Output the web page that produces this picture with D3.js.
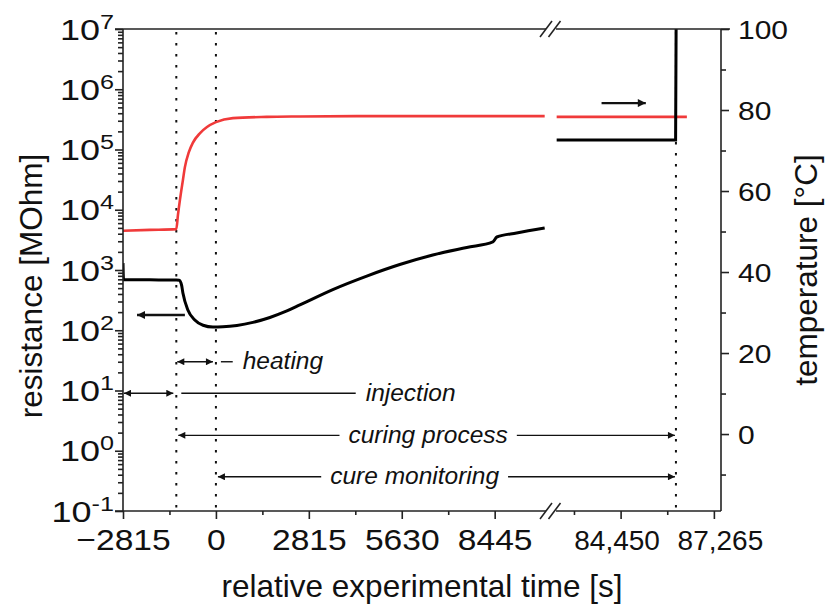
<!DOCTYPE html>
<html>
<head>
<meta charset="utf-8">
<script src="https://cdn.jsdelivr.net/npm/d3@7"></script>
<style>
  html, body { margin: 0; padding: 0; background: #fff; }
  svg { display: block; font-family: "Liberation Sans", Arial, sans-serif; }
</style>
</head>
<body>
<svg id="chart" width="826" height="606"></svg>
<script>
// Resistance of the sensor (left, log axis) and mould temperature (right axis)
// against relative experimental time; the time axis is broken between the two parts.

// --- resistance [MOhm], first part of the run
const resTimeA  = [-2815, -2800, -2000, -1200, -1110, -1040, -1000, -850, -640, -390, -90, 210, 636, 1120, 1635, 2150, 2543, 3541, 4570, 5570, 6570, 7600, 8390, 8510, 9110, 9960];
const resValueA = [1300, 690, 686, 682, 678, 560, 415, 217, 148, 121, 113, 114, 120, 135, 163, 209, 263, 474, 794, 1233, 1774, 2362, 2917, 3530, 4110, 4980];
// --- resistance, end of the run
const resTimeB  = [82520, 86110, 86125];
const resValueB = [1.44e5, 1.44e5, 1e7];

// --- temperature [°C]
const tempTimeA  = [-2815, -2000, -1200, -1150, -1090, -1000, -940, -820, -700, -480, -270, 0, 515, 1540, 2540, 5000, 7500, 9960];
const tempValueA = [50.2, 50.4, 50.6, 54.1, 57.8, 62.7, 65.9, 69.6, 71.9, 74.3, 75.8, 77.0, 78.0, 78.3, 78.4, 78.5, 78.5, 78.5];
const tempTimeB  = [82520, 86450];
const tempValueB = [78.3, 78.3];

// --- ticks
const xTicksLeft = [-2815, 0, 2815, 5630, 8445];
const xTickLabelsLeft = ["\u22122815", "0", "2815", "5630", "8445"];
const xMinorLeft = [-1407.5, 1407.5, 4222.5, 7037.5];
const xTicksRight = [84450, 87265];
const xTickLabelsRight = ["84,450", "87,265"];
const xMinorRight = [83042.5, 85857.5];
const resExponents = [-1, 0, 1, 2, 3, 4, 5, 6, 7];
const tempTicks = [0, 20, 40, 60, 80, 100];
const tempMinor = [-10, 10, 30, 50, 70, 90];

// --- process phases (times in s, arrow level in MOhm)
const markerTimes = [-1200, 0, 86120];
const phaseNames = ["heating", "injection", "curing process", "cure monitoring"];
const phaseStart = [-1200, -2815, -1200, 0];
const phaseEnd   = [0, -1200, 86120, 86120];
const phaseLevel = [30, 9, 1.8, 0.37];
const phaseLabelAt = [2030, 5900, 6430, 6020];

// --- arrows telling which axis each curve belongs to
const resArrowTime = [-940, -2390];
const resArrowLevel = 179;
const tempArrowTime = [83875, 85210];
const tempArrowLevel = 81.7;

// ---------------------------------------------------------------
const W = 826, H = 606;
const M = { top: 29, right: 105, bottom: 95, left: 123 };
const plotL = M.left, plotR = W - M.right, plotT = M.top, plotB = H - M.bottom;
const breakL = 546, breakR = 556;

const svg = d3.select("#chart");

// broken time axis: two linear pieces sharing one scale
const x = d3.scaleLinear()
  .domain([-2815, 10000, 82500, 87480])
  .range([plotL, breakL, breakR, plotR]);
const yRes = d3.scaleLog().domain([0.1, 1e7]).range([plotB, plotT]);
const yTemp = d3.scaleLinear().domain([-19, 100]).range([plotB, plotT]);

const defs = svg.append("defs");
function marker(id, len, wid) {
  defs.append("marker")
    .attr("id", id)
    .attr("viewBox", "0 0 10 10")
    .attr("refX", 10).attr("refY", 5)
    .attr("markerUnits", "userSpaceOnUse")
    .attr("markerWidth", len).attr("markerHeight", wid)
    .attr("orient", "auto-start-reverse")
    .append("path").attr("d", "M0,0L10,5L0,10Z").attr("fill", "#111");
}
marker("headSmall", 8, 7);
marker("headBig", 10, 8);

svg.append("clipPath").attr("id", "plotClip")
  .append("rect").attr("x", plotL).attr("y", plotT)
  .attr("width", plotR - plotL).attr("height", plotB - plotT);

// dotted phase boundaries
svg.append("g").selectAll("line").data(markerTimes).join("line")
  .attr("x1", d => x(d)).attr("x2", d => x(d))
  .attr("y1", plotT + 3).attr("y2", plotB)
  .attr("stroke", "#111").attr("stroke-width", 2)
  .attr("stroke-dasharray", "2.5,8.5");

// curves
const curves = svg.append("g").attr("clip-path", "url(#plotClip)");
const resLine = d3.line().x(d => x(d[0])).y(d => yRes(d[1])).curve(d3.curveMonotoneX);
const tempLine = d3.line().x(d => x(d[0])).y(d => yTemp(d[1])).curve(d3.curveMonotoneX);
const zip = (a, b) => a.map((t, i) => [t, b[i]]);

curves.append("path").attr("d", tempLine(zip(tempTimeA, tempValueA)))
  .attr("fill", "none").attr("stroke", "#f03a3a").attr("stroke-width", 2.6);
curves.append("path").attr("d", tempLine(zip(tempTimeB, tempValueB)))
  .attr("fill", "none").attr("stroke", "#f03a3a").attr("stroke-width", 2.6);
curves.append("path").attr("d", resLine(zip(resTimeA, resValueA)))
  .attr("fill", "none").attr("stroke", "#000").attr("stroke-width", 3);
curves.append("path").attr("d", d3.line().x(d => x(d[0])).y(d => yRes(d[1]))(zip(resTimeB, resValueB)))
  .attr("fill", "none").attr("stroke", "#000").attr("stroke-width", 3);

// axis pointers
svg.append("line")
  .attr("x1", x(resArrowTime[0])).attr("x2", x(resArrowTime[1]))
  .attr("y1", yRes(resArrowLevel)).attr("y2", yRes(resArrowLevel))
  .attr("stroke", "#111").attr("stroke-width", 2.4).attr("marker-end", "url(#headBig)");
svg.append("line")
  .attr("x1", x(tempArrowTime[0])).attr("x2", x(tempArrowTime[1]))
  .attr("y1", yTemp(tempArrowLevel)).attr("y2", yTemp(tempArrowLevel))
  .attr("stroke", "#111").attr("stroke-width", 2.4).attr("marker-end", "url(#headBig)");

// phase annotations
const ann = svg.append("g")
  .attr("font-style", "italic").attr("font-size", 24.5).attr("fill", "#111");
phaseNames.forEach((name, i) => {
  const y = yRes(phaseLevel[i]);
  const xs = x(phaseStart[i]), xe = x(phaseEnd[i]);
  const label = ann.append("text").text(name)
    .attr("y", y).attr("dy", "0.3em");
  const seg = (a, b, startHead, endHead) => {
    const l = ann.append("line").attr("x1", a).attr("x2", b)
      .attr("y1", y).attr("y2", y).attr("stroke", "#111").attr("stroke-width", 1.4);
    if (startHead) l.attr("marker-start", "url(#headSmall)");
    if (endHead) l.attr("marker-end", "url(#headSmall)");
  };
  if (phaseLabelAt[i] > phaseEnd[i]) {
    // arrow across the phase, then a leader to the label
    const len0 = label.node().getComputedTextLength();
    const tx = x(phaseLabelAt[i]) - len0 / 2;
    label.attr("x", tx);
    seg(xs + 1, xe - 3, true, true);
    seg(xe + 5, tx - 10, false, false);
  } else {
    label.attr("x", x(phaseLabelAt[i])).attr("text-anchor", "middle");
    const len = label.node().getComputedTextLength();
    const t0 = x(phaseLabelAt[i]) - len / 2, t1 = x(phaseLabelAt[i]) + len / 2;
    seg(xs + 2, t0 - 9, true, false);
    seg(t1 + 9, xe - 1, false, true);
  }
});

// ---- axes
const axisColor = "#222";
const frame = svg.append("g").attr("stroke", axisColor).attr("stroke-width", 1.6).attr("fill", "none");
// left & right spines
frame.append("line").attr("x1", plotL).attr("x2", plotL).attr("y1", plotT).attr("y2", plotB);
frame.append("line").attr("x1", plotR).attr("x2", plotR).attr("y1", plotT).attr("y2", plotB);
// top & bottom spines, interrupted at the break
[plotT, plotB].forEach(yy => {
  frame.append("line").attr("x1", plotL - 8).attr("x2", breakL).attr("y1", yy).attr("y2", yy);
  frame.append("line").attr("x1", breakR).attr("x2", plotR + (yy === plotT ? 9 : 0)).attr("y1", yy).attr("y2", yy);
  [breakL, breakR - 1.5].forEach(cx => {
    frame.append("line").attr("x1", cx - 6).attr("y1", yy + 8).attr("x2", cx + 6).attr("y2", yy - 8);
  });
});

function styleAxis(g) {
  g.select(".domain").remove();
  g.selectAll(".tick line").attr("stroke", axisColor).attr("stroke-width", 1.6);
}

// bottom axis (time), left piece
svg.append("g").attr("transform", `translate(0,${plotB})`)
  .call(d3.axisBottom(x).tickValues(xMinorLeft.concat(xMinorRight)).tickSize(4).tickFormat(""))
  .call(styleAxis);
svg.append("g").attr("transform", `translate(0,${plotB})`)
  .call(d3.axisBottom(x).tickValues(xTicksLeft).tickSize(8).tickFormat((d, i) => xTickLabelsLeft[i]))
  .call(styleAxis)
  .call(g => g.selectAll(".tick text")
    .attr("y", 0).attr("dy", 0)
    .attr("transform", "translate(0,39) scale(1.12,1)")
    .attr("font-size", 30).attr("font-family", "Liberation Sans, Arial, sans-serif")
    .attr("fill", "#111"));
// right piece: labels spread slightly apart so they do not touch
svg.append("g").attr("transform", `translate(0,${plotB})`)
  .call(d3.axisBottom(x).tickValues(xTicksRight).tickSize(8).tickFormat((d, i) => xTickLabelsRight[i]))
  .call(styleAxis)
  .call(g => g.selectAll(".tick text")
    .attr("y", 39).attr("dy", 0)
    .attr("dx", (d, i) => (i === 0 ? -4 : 6))
    .attr("font-size", 28).attr("font-family", "Liberation Sans, Arial, sans-serif")
    .attr("fill", "#111"));

// left axis (resistance, log)
const minorRes = [];
resExponents.slice(0, -1).forEach(e => { for (let k = 2; k <= 9; k++) minorRes.push(k * Math.pow(10, e)); });
svg.append("g").attr("transform", `translate(${plotL},0)`)
  .call(d3.axisLeft(yRes).tickValues(minorRes).tickSize(5).tickFormat(""))
  .call(styleAxis);
svg.append("g").attr("transform", `translate(${plotL},0)`)
  .call(d3.axisLeft(yRes).tickValues(resExponents.map(e => Math.pow(10, e))).tickSize(8).tickFormat(""))
  .call(styleAxis)
  .call(g => g.selectAll(".tick").each(function (d, i) {
    const t = d3.select(this).append("text")
      .attr("transform", "translate(-9,10) scale(1.2,1)")
      .attr("text-anchor", "end").attr("fill", "#111")
      .attr("font-family", "Liberation Sans, Arial, sans-serif");
    t.append("tspan").attr("font-size", 30).text("10");
    t.append("tspan").attr("font-size", 21).attr("dy", -11).text(String(resExponents[i]));
  }));

// right axis (temperature)
svg.append("g").attr("transform", `translate(${plotR},0)`)
  .call(d3.axisRight(yTemp).tickValues(tempMinor).tickSize(5).tickFormat(""))
  .call(styleAxis);
svg.append("g").attr("transform", `translate(${plotR},0)`)
  .call(d3.axisRight(yTemp).tickValues(tempTicks).tickSize(8).tickFormat(""))
  .call(styleAxis)
  .call(g => g.selectAll(".tick").append("text")
    .attr("transform", "translate(17,9) scale(1.2,1)")
    .attr("text-anchor", "start").attr("fill", "#111")
    .attr("font-size", 25).attr("font-family", "Liberation Sans, Arial, sans-serif")
    .text(d => String(d)));

// axis titles
svg.append("text").attr("x", (plotL + plotR) / 2).attr("y", 597)
  .attr("text-anchor", "middle").attr("font-size", 31.5).attr("fill", "#111")
  .text("relative experimental time [s]");
svg.append("text").attr("transform", "translate(42,286) rotate(-90)")
  .attr("text-anchor", "middle").attr("font-size", 31.5).attr("fill", "#111")
  .text("resistance [MOhm]");
svg.append("text").attr("transform", "translate(817,270) rotate(-90)")
  .attr("text-anchor", "middle").attr("font-size", 31.5).attr("fill", "#111")
  .text("temperature [°C]");
</script>
</body>
</html>
